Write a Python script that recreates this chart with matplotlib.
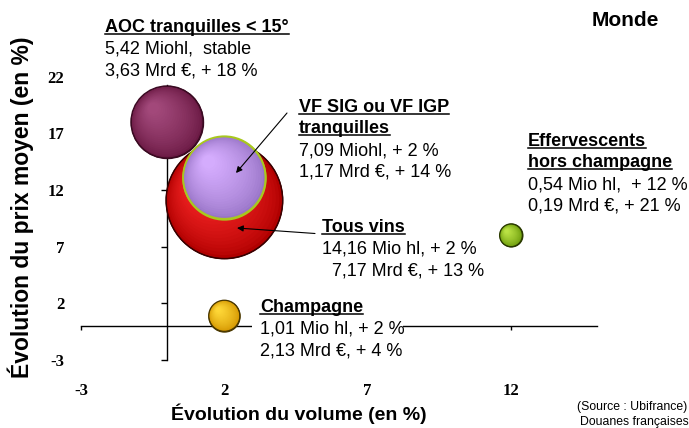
import numpy as np
import matplotlib
matplotlib.use("Agg")
import matplotlib.pyplot as plt
from matplotlib import transforms
from matplotlib.colors import to_rgb
from matplotlib.lines import Line2D
from matplotlib.patches import Rectangle

# ---------------- data ----------------
categories = ["AOC tranquilles < 15°", "Tous vins", "VF SIG ou VF IGP tranquilles",
              "Effervescents hors champagne", "Champagne"]
vol_change = [0.0, 2.0, 2.0, 12.0, 2.0]          # Évolution du volume (en %)
price_change = [18.0, 11.1, 13.1, 8.0, 0.9]      # Évolution du prix moyen (en %)
volume_miohl = [5.42, 14.16, 7.09, 0.54, 1.01]   # bubble size
x_ticks = [-3, 2, 7, 12]
y_ticks = [-3, 2, 7, 12, 17, 22]

W, H = 689, 428
DPI = 100
fig = plt.figure(figsize=(W / DPI, H / DPI), dpi=DPI)
fig.patch.set_facecolor("white")

def fx(px):
    return px / W

def fy(py):
    return 1 - py / H

# axes geometry (pixels)
X0, X1 = 81, 597
Y_BOT, Y_TOP = 360, 76.7
ax = fig.add_axes([fx(X0), fy(Y_BOT), (X1 - X0) / W, (Y_BOT - Y_TOP) / H])
ax.set_xlim(-3, 15)
ax.set_ylim(-3, 22)
ax.set_facecolor("none")

for s in ["top", "right"]:
    ax.spines[s].set_visible(False)
ax.spines["left"].set_position(("data", 0))
ax.spines["bottom"].set_position(("data", 0))
ax.spines["left"].set_bounds(-3, 21.3)
ax.spines["bottom"].set_bounds(-3, 15)
for s in ["left", "bottom"]:
    ax.spines[s].set_linewidth(1.0)
    ax.spines[s].set_color("black")
    ax.spines[s].set_zorder(0.5)

ax.set_xticks(x_ticks)
ax.set_yticks(y_ticks)
ax.set_xticklabels([str(v) for v in x_ticks])
ax.set_yticklabels([str(v) for v in y_ticks])
tick_font = dict(family="Liberation Serif", weight="bold", size=12)
for lab in ax.get_xticklabels() + ax.get_yticklabels():
    lab.set_fontproperties(matplotlib.font_manager.FontProperties(**tick_font))
ax.tick_params(axis="x", direction="out", length=3, width=1, pad=38)
ax.tick_params(axis="y", direction="out", length=4, width=1, pad=70)
# no tick mark at 22 (beyond the drawn axis line)
ax.yaxis.get_major_ticks()[-1].tick1line.set_visible(False)

# ---------------- bubbles ----------------
R_MAX_PX = 58.3
K = (2 * R_MAX_PX * 72 / DPI) ** 2 / max(volume_miohl)  # pt^2 per Mio hl

styles = [
    dict(dark="#6A1943", light="#A44A7C", edge="#3A0A22", lw=0.9),
    dict(dark="#B00000", light="#FF2A2A", edge="#3A0000", lw=0.9),
    dict(dark="#9874C6", light="#D6AEFF", edge="#A8C81E", lw=1.3),
    dict(dark="#6A9A0A", light="#BDE446", edge="#2A3A00", lw=0.9),
    dict(dark="#D49600", light="#FFD838", edge="#4A3800", lw=0.9),
]

def mix(c1, c2, t):
    a, b = np.array(to_rgb(c1)), np.array(to_rgb(c2))
    return tuple(a + (b - a) * t)

N_LAYERS = 22
for i, (x, y, v) in enumerate(zip(vol_change, price_change, volume_miohl)):
    st = styles[i]
    z = 3 + i
    s_full = v * K
    d_pt = np.sqrt(s_full)
    ax.scatter([x], [y], s=s_full, color=st["dark"], edgecolors=st["edge"],
               linewidths=st["lw"], zorder=z)
    for k in range(1, N_LAYERS):
        f = 1 - k / N_LAYERS * 0.88
        t = ((1 - f) / 0.88) ** 0.7
        off = (1 - f) * d_pt * 0.5 * 0.45
        tr = transforms.offset_copy(ax.transData, fig=fig, x=-off, y=off, units="points")
        ax.scatter([x], [y], s=s_full * f * f, color=mix(st["dark"], st["light"], t),
                   edgecolors="none", linewidths=0, zorder=z, transform=tr)
    # redraw edge on top
    ax.scatter([x], [y], s=s_full, facecolors="none", edgecolors=st["edge"],
               linewidths=st["lw"], zorder=z)

# ---------------- texts ----------------
FONT = "Liberation Sans"
FS = 13
underlined = []

def line(px, py, txt, bold=False, under=False, size=FS, ha="left"):
    t = fig.text(fx(px), fy(py), txt, family=FONT, size=size,
                 weight="bold" if bold else "normal", va="baseline", ha=ha, zorder=20)
    if under:
        underlined.append((t, py))
    return t

# AOC
line(105, 31.7, "AOC tranquilles < 15°", bold=True, under=True)
line(105, 53.3, "5,42 Miohl,  stable")
line(105, 75, "3,63 Mrd €, + 18 %")
# VF SIG
line(299, 111.7, "VF SIG ou VF IGP", bold=True, under=True)
line(299, 133.3, "tranquilles", bold=True, under=True)
line(299, 155, "7,09 Miohl, + 2 %")
line(299, 176.7, "1,17 Mrd €, + 14 %")
# Effervescents
line(528, 145.7, "Effervescents", bold=True, under=True)
line(528, 167.3, "hors champagne", bold=True, under=True)
line(528, 190, "0,54 Mio hl,  + 12 %")
line(528, 210.7, "0,19 Mrd €, + 21 %")
# Tous vins
line(322, 231.7, "Tous vins", bold=True, under=True)
line(322, 254, "14,16 Mio hl, + 2 %")
line(322, 276, "  7,17 Mrd €, + 13 %")
# Champagne (white box hides the axis line)
fig.patches.append(Rectangle((fx(252), fy(362)), (403 - 252) / W, (362 - 318) / H,
                             transform=fig.transFigure, facecolor="white",
                             edgecolor="none", zorder=10))
line(260, 311.7, "Champagne", bold=True, under=True)
line(260, 334, "1,01 Mio hl, + 2 %")
line(260, 355, "2,13 Mrd €, + 4 %")

# title
fig.text(fx(659), fy(26), "Monde", family=FONT, size=15, weight="bold",
         ha="right", va="baseline")

# axis labels
fig.text(fx(299), fy(420), "Évolution du volume (en %)", family=FONT, size=14,
         weight="bold", ha="center", va="baseline")
fig.text(fx(21), fy(207), "Évolution du prix moyen (en %)", family=FONT, size=16.5,
         weight="bold", ha="center", va="center", rotation=90)

# source
fig.text(fx(687), fy(410), "(Source : Ubifrance)", family=FONT, size=8.8,
         ha="right", va="baseline")
fig.text(fx(580), fy(424.5), "Douanes françaises", family=FONT, size=8.8,
         ha="left", va="baseline")

# arrows
def px2data(px, py):
    return ax.transData.inverted().transform(fig.transFigure.transform((fx(px), fy(py))))

ax.annotate("", xy=px2data(236, 173), xytext=px2data(287, 113),
            arrowprops=dict(arrowstyle="-|>", lw=0.8, color="black", mutation_scale=9,
                            shrinkA=0, shrinkB=0), zorder=30, annotation_clip=False)
ax.annotate("", xy=px2data(237, 228), xytext=px2data(315, 233.5),
            arrowprops=dict(arrowstyle="-|>", lw=0.8, color="black", mutation_scale=9,
                            shrinkA=0, shrinkB=0), zorder=30, annotation_clip=False)

# underlines
fig.canvas.draw()
r = fig.canvas.get_renderer()
for t, py in underlined:
    bb = t.get_window_extent(renderer=r)
    yline = fy(py + 1.8)
    fig.add_artist(Line2D([bb.x0 / W, bb.x1 / W], [yline, yline], transform=fig.transFigure,
                          color="black", lw=1.1, zorder=21))

fig.savefig("out.png", dpi=DPI, facecolor="white")
